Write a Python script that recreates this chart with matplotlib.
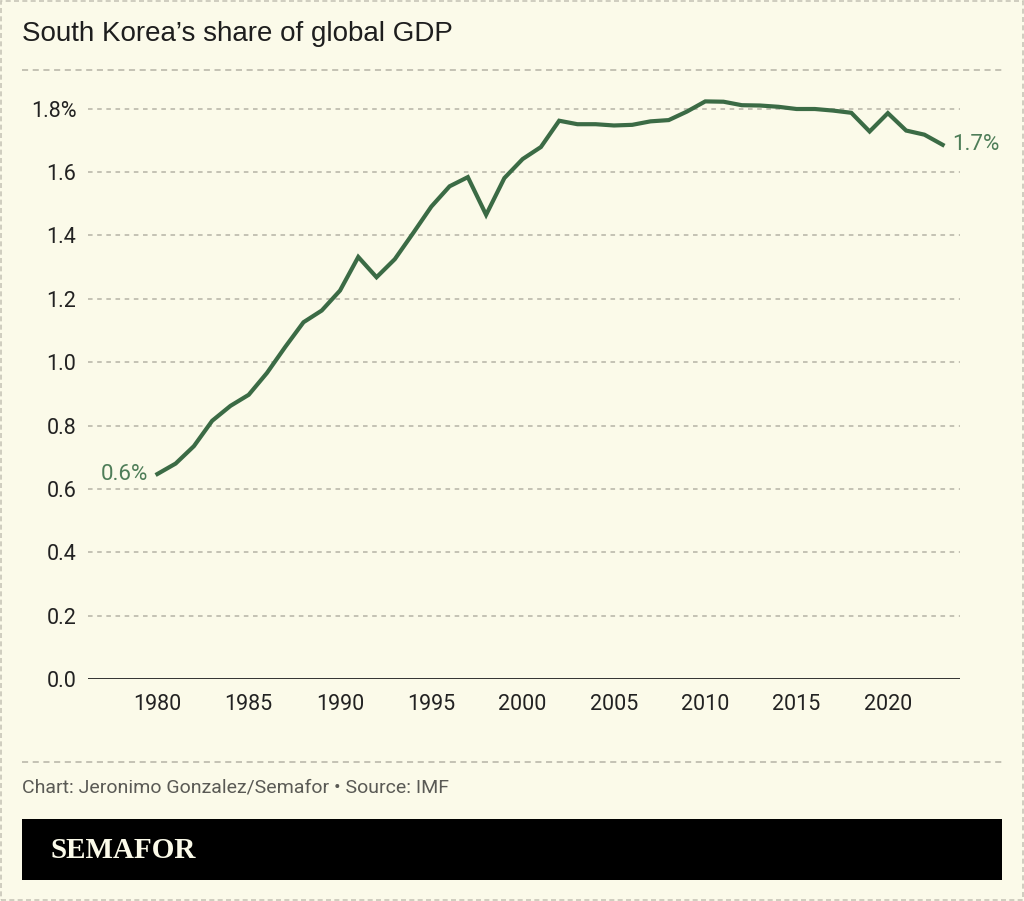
import matplotlib.pyplot as plt
from matplotlib.patches import Rectangle
from matplotlib.lines import Line2D

# data
years = list(range(1980, 2024))
share = [0.647, 0.68, 0.735, 0.815, 0.862, 0.897, 0.966, 1.048, 1.126, 1.163,
         1.226, 1.332, 1.268, 1.325, 1.407, 1.491, 1.555, 1.584, 1.465, 1.581,
         1.641, 1.679, 1.762, 1.751, 1.751, 1.747, 1.749, 1.760, 1.764, 1.791,
         1.823, 1.822, 1.811, 1.810, 1.806, 1.799, 1.799, 1.794, 1.787, 1.728,
         1.786, 1.731, 1.718, 1.686]
yticks = [0.0, 0.2, 0.4, 0.6, 0.8, 1.0, 1.2, 1.4, 1.6, 1.8]
ytick_labels = ["0.0", "0.2", "0.4", "0.6", "0.8", "1.0", "1.2", "1.4", "1.6", "1.8%"]
xticks = [1980, 1985, 1990, 1995, 2000, 2005, 2010, 2015, 2020]

W, H = 1024, 901
bg = "#fbfae9"
green = "#3b6b45"
label_green = "#4e7d58"
grid_col = "#b5b3a6"

def fx(px):
    return px / W

def fy(py):
    return 1 - py / H

fig = plt.figure(figsize=(W / 100, H / 100), dpi=100, facecolor=bg)

ax = fig.add_axes([fx(88), fy(679), fx(960) - fx(88), fy(77) - fy(679)])
ax.set_facecolor(bg)
ax.plot(years, share, color=green, lw=3, solid_joinstyle="miter", zorder=3)
ax.set_xlim(1976.2, 2023.95)
ax.set_ylim(0, 1.9)

for v in yticks[1:]:
    ax.axhline(v, color=grid_col, lw=1.1, ls=(0, (3, 3)), zorder=1)
ax.axhline(0, color="#222222", lw=1.3, zorder=2)

ax.set_yticks(yticks)
ax.set_yticklabels(ytick_labels)
ax.set_xticks(xticks)
ax.set_xticklabels([str(x) for x in xticks])
ax.tick_params(length=0, labelsize=15.5, labelcolor="#222222")
ax.tick_params(axis="y", pad=8.5)
ax.tick_params(axis="x", pad=11)
for lab in ax.get_xticklabels() + ax.get_yticklabels():
    lab.set_family("Roboto")
for s in ax.spines.values():
    s.set_visible(False)

ax.annotate("0.6%", (years[0], share[0]), xytext=(-7, 0), textcoords="offset points",
            ha="right", va="center", color=label_green, fontsize=16, family="Roboto")
ax.annotate("1.7%", (years[-1], share[-1]), xytext=(7, 0), textcoords="offset points",
            ha="left", va="center", color=label_green, fontsize=16, family="Roboto")

# title and separators
fig.text(fx(22), fy(34), "South Korea\u2019s share of global GDP", ha="left", va="center",
         fontsize=20, family="Liberation Sans", color="#1e1e1e")
fig.add_artist(Line2D([fx(22), fx(1002)], [fy(70), fy(70)], color=grid_col, lw=1.1,
                      ls=(0, (4, 3))))
fig.add_artist(Line2D([fx(22), fx(1002)], [fy(762), fy(762)], color=grid_col, lw=1.1,
                      ls=(0, (4, 3))))

fig.text(fx(22), fy(787), "Chart: Jeronimo Gonzalez/Semafor \u2022 Source: IMF", ha="left",
         va="center", fontsize=14, family="Roboto", color="#5a5a55")

# logo bar
fig.add_artist(Rectangle((fx(22), fy(880)), fx(1002) - fx(22), fy(819) - fy(880),
                         transform=fig.transFigure, facecolor="black", edgecolor="none"))
fig.text(fx(50), fy(850), "SEMAFOR", ha="left", va="center", fontsize=21,
         family="Liberation Serif", weight="bold", color=bg)

# dashed outer border
fig.add_artist(Rectangle((0.001, 0.001), 0.998, 0.998, transform=fig.transFigure,
                         facecolor="none", edgecolor="#c8c6b8", lw=1.2, ls=(0, (3, 2))))

fig.savefig("out.png", dpi=100, facecolor=bg)
